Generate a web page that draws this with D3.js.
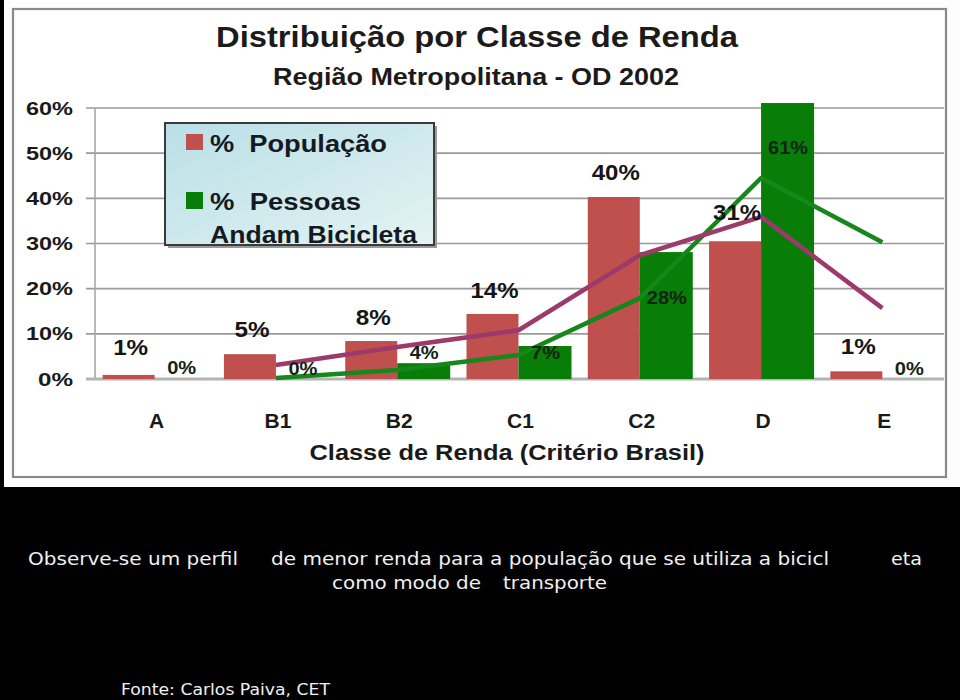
<!DOCTYPE html>
<html>
<head>
<meta charset="utf-8">
<script src="https://cdn.jsdelivr.net/npm/d3@7"></script>
<style>
  html, body { margin: 0; padding: 0; background: #000; }
  svg { display: block; }
</style>
</head>
<body>
<svg id="chart" width="960" height="700"></svg>
<script>
// ---------- DATA ----------
const categories = ["A", "B1", "B2", "C1", "C2", "D", "E"];
const populacao  = [0.9, 5.5, 8.4, 14.4, 40.3, 30.5, 1.7];
const bicicleta  = [0, 0, 3.5, 7.3, 28.1, 61.1, 0];
const populacaoLine = [null, 3.1, 7.1, 10.8, 27.4, 35.9, 15.7];
const bicicletaLine = [null, 0.2, 2.0, 5.3, 17.9, 44.5, 30.3];
const populacaoLabels = ["1%", "5%", "8%", "14%", "40%", "31%", "1%"];
const bicicletaLabels = ["0%", "0%", "4%", "7%", "28%", "61%", "0%"];
const yTicks = [0, 10, 20, 30, 40, 50, 60];
const legendLabels = ["%  População", "%  Pessoas", "Andam Bicicleta"];
const titleText = "Distribuição por Classe de Renda";
const subtitleText = "Região Metropolitana - OD 2002";
const xTitleText = "Classe de Renda (Critério Brasil)";

// ---------- LAYOUT ----------
const svg = d3.select("#chart");
const plot = { left: 95, right: 944, top: 108, bottom: 379 };
const colRed = "#c0504d", colGreen = "#087d08", colPurple = "#9c3a6c", colGreenLine = "#16871a";
const font = "'Liberation Sans', Arial, sans-serif";
const SG = "spacingAndGlyphs";

const x = d3.scaleBand().domain(categories).range([plot.left, plot.right]).paddingInner(0).paddingOuter(0);
const y = d3.scaleLinear().domain([0, 60]).range([plot.bottom, plot.top]);
const barW = 52;

// backgrounds
svg.append("rect").attr("x", 0).attr("y", 0).attr("width", 960).attr("height", 700).attr("fill", "#000");
svg.append("rect").attr("x", 4).attr("y", 0).attr("width", 956).attr("height", 487).attr("fill", "#fdfdfd");
svg.append("rect").attr("x", 13).attr("y", 9).attr("width", 933).attr("height", 468)
  .attr("fill", "#fff").attr("stroke", "#8a8a8a").attr("stroke-width", 2.2);

// title
svg.append("text").attr("x", 477).attr("y", 47).attr("text-anchor", "middle")
  .attr("font-family", font).attr("font-weight", "bold").attr("font-size", 30)
  .attr("fill", "#1d1a1a").attr("textLength", 522).attr("lengthAdjust", SG)
  .text(titleText);
svg.append("text").attr("x", 476).attr("y", 85).attr("text-anchor", "middle")
  .attr("font-family", font).attr("font-weight", "bold").attr("font-size", 23)
  .attr("fill", "#1d1a1a").attr("textLength", 406).attr("lengthAdjust", SG)
  .text(subtitleText);

// gridlines
const g = svg.append("g");
g.selectAll("line.grid").data(yTicks.filter(d => d > 0)).join("line")
  .attr("class", "grid")
  .attr("x1", plot.left - 9).attr("x2", plot.right)
  .attr("y1", d => y(d)).attr("y2", d => y(d))
  .attr("stroke", "#9a9a9a").attr("stroke-width", 1.6);
g.append("line").attr("x1", plot.left).attr("x2", plot.left)
  .attr("y1", plot.top).attr("y2", plot.bottom)
  .attr("stroke", "#a8a8a8").attr("stroke-width", 1.6);
g.append("line").attr("x1", plot.left - 9).attr("x2", plot.right)
  .attr("y1", y(0)).attr("y2", y(0))
  .attr("stroke", "#b4b4b4").attr("stroke-width", 3);

// y tick labels
g.selectAll("text.ytick").data(yTicks).join("text")
  .attr("class", "ytick")
  .attr("x", 73).attr("y", d => y(d) + 6.5)
  .attr("text-anchor", "end")
  .attr("font-family", font).attr("font-weight", "bold").attr("font-size", 18)
  .attr("fill", "#1a1a1a")
  .attr("textLength", d => d === 0 ? 35 : 47).attr("lengthAdjust", SG)
  .text(d => d + "%");

// x labels
g.selectAll("text.xtick").data(categories).join("text")
  .attr("class", "xtick")
  .attr("x", d => x(d) + x.bandwidth() / 2 + 1).attr("y", 428)
  .attr("text-anchor", "middle")
  .attr("font-family", font).attr("font-weight", "bold").attr("font-size", 21)
  .attr("fill", "#1a1a1a")
  .text(d => d);

svg.append("text").attr("x", 507).attr("y", 460).attr("text-anchor", "middle")
  .attr("font-family", font).attr("font-weight", "bold").attr("font-size", 22)
  .attr("fill", "#1a1a1a").attr("textLength", 395).attr("lengthAdjust", SG)
  .text(xTitleText);

// bars
const cx = d => x(d) + x.bandwidth() / 2;
g.selectAll("rect.pop").data(categories).join("rect")
  .attr("class", "pop")
  .attr("x", (d) => cx(d) - barW - 1)
  .attr("width", barW)
  .attr("y", (d, i) => y(populacao[i]))
  .attr("height", (d, i) => y(0) - y(populacao[i]))
  .attr("fill", colRed);
g.selectAll("rect.bike").data(categories).join("rect")
  .attr("class", "bike")
  .attr("x", (d) => cx(d) - 1)
  .attr("width", barW + 1)
  .attr("y", (d, i) => y(bicicleta[i]))
  .attr("height", (d, i) => y(0) - y(bicicleta[i]))
  .attr("fill", colGreen);

// lines
const lineGen = d3.line()
  .defined(d => d.v != null)
  .x(d => cx(d.c) - 1)
  .y(d => y(d.v));
const popPts = categories.map((c, i) => ({ c, v: populacaoLine[i] }));
const bikePts = categories.map((c, i) => ({ c, v: bicicletaLine[i] }));
g.append("path").datum(bikePts).attr("d", lineGen)
  .attr("fill", "none").attr("stroke", colGreenLine).attr("stroke-width", 4.5)
  .attr("stroke-linejoin", "round");
g.append("path").datum(popPts).attr("d", lineGen)
  .attr("fill", "none").attr("stroke", colPurple).attr("stroke-width", 4.5)
  .attr("stroke-linejoin", "round");

// data labels
const popLabelDy = [-28, -25, -24, -24, -25, -29, -25];
g.selectAll("text.poplab").data(categories).join("text")
  .attr("class", "poplab")
  .attr("x", d => cx(d) - barW / 2 + 1)
  .attr("y", (d, i) => y(populacao[i]) + popLabelDy[i] + 8)
  .attr("text-anchor", "middle")
  .attr("font-family", font).attr("font-weight", "bold").attr("font-size", 22)
  .attr("fill", "#151515")
  .attr("textLength", (d, i) => populacaoLabels[i].length === 3 ? 48 : 35).attr("lengthAdjust", SG)
  .text((d, i) => populacaoLabels[i]);

const bikeLabelDy = [-12, -11, -11, 6, 45, 44, -11];
g.selectAll("text.bikelab").data(categories).join("text")
  .attr("class", "bikelab")
  .attr("x", d => cx(d) + barW / 2)
  .attr("y", (d, i) => y(bicicleta[i]) + bikeLabelDy[i] + 6.5)
  .attr("text-anchor", "middle")
  .attr("font-family", font).attr("font-weight", "bold").attr("font-size", 18)
  .attr("fill", "#142414")
  .attr("textLength", (d, i) => bicicletaLabels[i].length === 3 ? 40 : 29).attr("lengthAdjust", SG)
  .text((d, i) => bicicletaLabels[i]);

// legend
const defs = svg.append("defs");
const grad = defs.append("linearGradient").attr("id", "lg").attr("x1", 0).attr("y1", 0).attr("x2", 1).attr("y2", 1);
grad.append("stop").attr("offset", "0%").attr("stop-color", "#b9dfe6");
grad.append("stop").attr("offset", "100%").attr("stop-color", "#e4f3f3");
const leg = svg.append("g");
leg.append("rect").attr("x", 168).attr("y", 126).attr("width", 269).attr("height", 122).attr("fill", "#9a9a9a");
leg.append("rect").attr("x", 165).attr("y", 123).attr("width", 269).attr("height", 122)
  .attr("fill", "url(#lg)").attr("stroke", "#3a3a3a").attr("stroke-width", 2);
leg.append("rect").attr("x", 186).attr("y", 134).attr("width", 17).attr("height", 16).attr("fill", colRed);
leg.append("rect").attr("x", 186).attr("y", 192).attr("width", 17).attr("height", 17).attr("fill", colGreen);
const legText = [
  { t: legendLabels[0], y: 152, w: 177 },
  { t: legendLabels[1], y: 210, w: 151 },
  { t: legendLabels[2], y: 243, w: 207 }
];
leg.selectAll("text").data(legText).join("text")
  .attr("x", 210).attr("y", d => d.y)
  .attr("font-family", font).attr("font-weight", "bold").attr("font-size", 23)
  .attr("fill", "#151a22").attr("textLength", d => d.w).attr("lengthAdjust", SG)
  .attr("xml:space", "preserve").style("white-space", "pre")
  .text(d => d.t);

// caption
const cap = svg.append("g").attr("font-family", "'DejaVu Sans', Verdana, sans-serif").attr("fill", "#f0f0f0").attr("font-size", 18);
const capSegs = [
  { t: "Observe-se um perfil", x: 28, y: 565, w: 210 },
  { t: "de menor renda para a população que se utiliza a bicicl", x: 271, y: 565, w: 558 },
  { t: "eta", x: 891, y: 565, w: 31 },
  { t: "como modo de", x: 332, y: 589, w: 149 },
  { t: "transporte", x: 503, y: 589, w: 104 }
];
cap.selectAll("text").data(capSegs).join("text")
  .attr("x", d => d.x).attr("y", d => d.y)
  .attr("textLength", d => d.w).attr("lengthAdjust", SG)
  .text(d => d.t);
svg.append("text").attr("x", 121).attr("y", 695)
  .attr("font-family", "'DejaVu Sans', Verdana, sans-serif").attr("font-size", 16)
  .attr("fill", "#f0f0f0").attr("textLength", 209).attr("lengthAdjust", SG)
  .text("Fonte: Carlos Paiva, CET");
</script>
</body>
</html>
